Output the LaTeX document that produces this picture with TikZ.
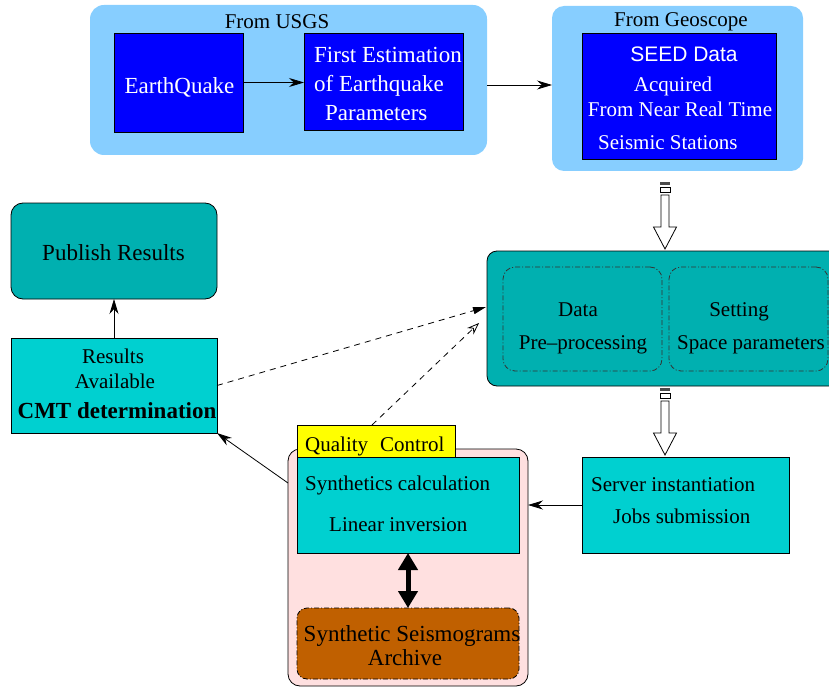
\documentclass[tikz,border=0pt]{standalone}
\usepackage{fontspec}
\setmainfont{Liberation Serif}
\setsansfont{Liberation Sans}
\usetikzlibrary{arrows.meta,calc}
\definecolor{ltblue}{HTML}{87CEFF}
\definecolor{xblue}{HTML}{0000FF}
\definecolor{cyanA}{HTML}{00B0B0}
\definecolor{cyanB}{HTML}{00D0D0}
\definecolor{brownB}{HTML}{C06000}
\definecolor{pinkA}{HTML}{FFE0E0}
\definecolor{yel}{HTML}{FFFF00}
\begin{document}
\begin{tikzpicture}[x=1pt,y=-1pt,
  font=\fontsize{21}{25}\selectfont,
  box/.style={draw=black, line width=0.8pt, inner sep=0pt, outer sep=0pt, rectangle},
  panel/.style={fill=ltblue, inner sep=0pt, outer sep=0pt, rectangle, rounded corners=14pt},
  dashdot/.style={dash pattern=on 5pt off 2pt on 1pt off 2pt},
  txt/.style={inner sep=0pt, text height=14pt, text depth=4pt},
  big/.style={font=\fontsize{23}{27}\selectfont},
  wtxt/.style={txt, text=white},
  arr/.style={line width=0.8pt, -{Stealth[length=15pt,width=9pt]}},
  dasharr/.style={line width=0.8pt, dash pattern=on 6pt off 5pt},
  hollow/.style={draw=black, line width=0.8pt, fill=white}]
\useasboundingbox (0,0) rectangle (829,687);
\clip (0,0) rectangle (829,687);

% ---- top left panel
\node[panel, minimum width=397pt, minimum height=150pt] (usgs) at (288.5,80) {};
\node[txt] (t-usgs) at (277,24) {From USGS};
\node[box, fill=xblue, minimum width=129pt, minimum height=99pt] (eq) at (178.5,82.5) {};
\node[wtxt, big] (t-eq) at (179.5,89) {EarthQuake};
\node[box, fill=xblue, minimum width=159pt, minimum height=97pt] (fe) at (383.5,81.5) {};
\node[wtxt, big, anchor=west] (t-fe1) at (314,58) {First Estimation};
\node[wtxt, big, anchor=west] (t-fe2) at (314,87) {of Earthquake};
\node[wtxt, big, anchor=west] (t-fe3) at (325,116) {Parameters};

% ---- top right panel
\node[panel, rounded corners=12pt, minimum width=251pt, minimum height=165pt] (geo) at (677.5,88.5) {};
\node[txt] (t-geo) at (681,22) {From Geoscope};
\node[box, fill=xblue, minimum width=194pt, minimum height=126pt] (seed) at (679,96) {};
\node[wtxt, font=\sffamily\fontsize{21}{25}\selectfont] (t-seed1) at (684,57) {SEED Data};
\node[wtxt] (t-seed2) at (673,87) {Acquired};
\node[wtxt] (t-seed3) at (680,112) {From Near Real Time};
\node[wtxt, anchor=west] (t-seed4) at (598,145) {Seismic Stations};

% ---- publish results
\node[box, fill=cyanA, rounded corners=12pt, minimum width=206pt, minimum height=96pt] (pub) at (114,251) {};
\node[txt, big] (t-pub) at (113.5,255) {Publish Results};

% ---- data box
\node[box, fill=cyanA, rounded corners=10pt, minimum width=358pt, minimum height=135pt] (data) at (666,318.5) {};
\node[box, draw=black!80, dashdot, rounded corners=12pt, minimum width=159pt, minimum height=104pt] (dpp) at (582.5,319) {};
\node[box, draw=black!80, dashdot, rounded corners=12pt, minimum width=159pt, minimum height=104pt] (ssp) at (748.5,319) {};
\node[txt] (t-d1) at (578,311) {Data};
\node[txt] (t-d2) at (583,344) {Pre–processing};
\node[txt] (t-s1) at (739,311) {Setting};
\node[txt, anchor=west] (t-s2) at (677,344) {Space parameters};

% ---- results
\node[box, fill=cyanB, minimum width=206pt, minimum height=95pt] (res) at (114,385.5) {};
\node[txt] (t-r1) at (113,358) {Results};
\node[txt] (t-r2) at (115,383) {Available};
\node[txt, font=\bfseries\fontsize{23}{27}\selectfont] (t-r3) at (117,413) {CMT determination};

% ---- server
\node[box, fill=cyanB, minimum width=207pt, minimum height=96pt] (srv) at (685.5,505) {};
\node[txt, anchor=west] (t-srv1) at (591,486) {Server instantiation};
\node[txt, anchor=west] (t-srv2) at (613,518) {Jobs submission};

% ---- pink group
\node[box, fill=pinkA, rounded corners=12pt, minimum width=240pt, minimum height=237pt] (pink) at (408,567.5) {};
\node[box, fill=yel, minimum width=158pt, minimum height=32pt] (qc) at (376,441) {};
\node[txt, anchor=west] (t-qc) at (305,446) {Quality\hspace{12pt}Control};
\node[box, fill=cyanB, minimum width=222pt, minimum height=96pt] (syn) at (408,505) {};
\node[txt, anchor=west] (t-syn1) at (305,485) {Synthetics calculation};
\node[txt, anchor=west] (t-syn2) at (329,526) {Linear inversion};
\node[box, fill=brownB, dashdot, rounded corners=10pt, minimum width=222pt, minimum height=71pt] (arch) at (408,643.5) {};
\node[txt, big] (t-a1) at (412,636) {Synthetic Seismograms};
\node[txt, big] (t-a2) at (405,660) {Archive};

% ---- connectors
\draw[arr] (eq.east) -- (eq.east -| fe.west);
\coordinate (uo) at ($(usgs.east)+(0,5)$);
\draw[arr] (uo) -- (uo -| geo.west);
\draw[arr] (res.north) -- (pub.south);
\coordinate (pl) at ($(pink.north west)+(0,34)$);
\draw[arr] (pl) -- (res.south east);
\draw[arr] (srv.west) -- (srv.west -| pink.east);
\coordinate (d1) at ($(data.west)+(-1,-11.5)$);
\coordinate (d2) at ($(data.west)+(-8,4.5)$);
\draw[dasharr, -{Triangle[length=13pt,width=7pt]}] (res.east) -- (d1);
\draw[dasharr, -{Stealth[open,length=12pt,width=9pt]}] ($(qc.north)+(-4,0)$) -- (d2);
\draw[line width=5pt, {Triangle[length=17pt,width=19pt]}-{Triangle[length=17pt,width=19pt]}] (syn.south) -- (arch.north);

% ---- hollow arrows
\coordinate (h1) at (665,249);
\fill[black!70] ($(h1)+(-5,-67)$) rectangle ($(h1)+(5,-64.5)$);
\draw[line width=0.8pt] ($(h1)+(-5,-62)$) rectangle ($(h1)+(5,-57)$);
\draw[hollow] ($(h1)+(-4,-54)$) -- ($(h1)+(-4,-22)$) -- ($(h1)+(-11.5,-22)$) -- (h1) -- ($(h1)+(11.5,-22)$) -- ($(h1)+(4,-22)$) -- ($(h1)+(4,-54)$) -- cycle;
\coordinate (h2) at (665,455);
\fill[black!70] ($(h2)+(-5,-67)$) rectangle ($(h2)+(5,-64.5)$);
\draw[line width=0.8pt] ($(h2)+(-5,-62)$) rectangle ($(h2)+(5,-57)$);
\draw[hollow] ($(h2)+(-4,-54)$) -- ($(h2)+(-4,-22)$) -- ($(h2)+(-11.5,-22)$) -- (h2) -- ($(h2)+(11.5,-22)$) -- ($(h2)+(4,-22)$) -- ($(h2)+(4,-54)$) -- cycle;
\end{tikzpicture}
\end{document}
